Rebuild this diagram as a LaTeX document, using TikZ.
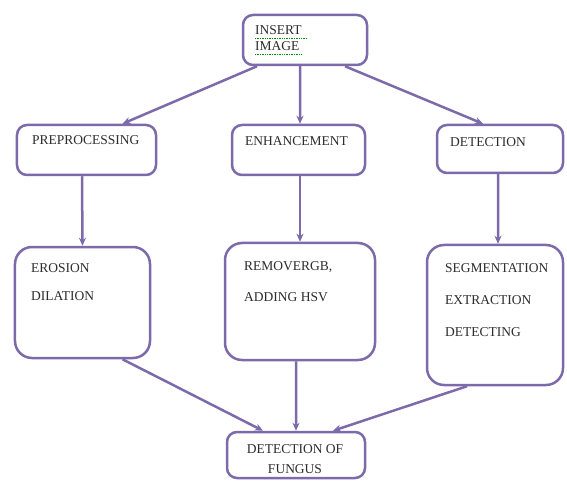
\documentclass[tikz,border=0pt]{standalone}
\usepackage{fontspec}
\setmainfont{Liberation Serif}
\usetikzlibrary{arrows.meta,calc}
\definecolor{boxline}{RGB}{124,106,170}
\definecolor{txt}{RGB}{45,45,45}
\tikzset{
  box/.style={draw=boxline, line width=2.5bp, rounded corners=10bp, inner sep=0pt, fill=white},
  bigbox/.style={box, rounded corners=17bp},
  lbl/.style={anchor=base west, inner sep=0pt, text=txt, font=\fontsize{13.5bp}{15bp}\selectfont},
  clbl/.style={lbl, anchor=base},
  conn/.style={draw=boxline, line width=2.5bp, -{Stealth[length=8bp,width=7bp]}},
  squig/.style={draw=green!55!black, line width=0.7bp, densely dotted}
}
\begin{document}
\begin{tikzpicture}[x=1bp,y=-1bp]
\useasboundingbox (0,0) rectangle (567,481);
% boxes
\node[box, minimum width=124bp, minimum height=50bp] (ins) at (305,40) {};
\node[box, minimum width=139bp, minimum height=50bp] (pre) at (86.5,150) {};
\node[box, minimum width=133bp, minimum height=50bp] (enh) at (298.5,150) {};
\node[box, minimum width=126bp, minimum height=48bp] (det) at (500,149) {};
\node[bigbox, minimum width=135bp, minimum height=111bp] (ero) at (82.5,302.5) {};
\node[bigbox, minimum width=150bp, minimum height=117bp] (rem) at (300,301.5) {};
\node[bigbox, minimum width=136bp, minimum height=140bp] (seg) at (495,315) {};
\node[box, minimum width=138bp, minimum height=46bp] (fun) at (296,455) {};
% texts
\node[lbl] (t1) at (255,35) {INSERT};
\node[lbl] (t2) at (255,51) {IMAGE};
\draw[squig] (t1.base west) ++(0,3) -- ++(52,0);
\draw[squig] (t2.base west) ++(0,3) -- ++(47,0);
\node[lbl] (t3) at (32,145) {PREPROCESSING};
\node[lbl] (t4) at (245,146) {ENHANCEMENT};
\node[lbl] (t5) at (450,147) {DETECTION};
\node[lbl] (t6) at (31,272) {EROSION};
\node[lbl] (t7) at (31,300) {DILATION};
\node[lbl] (t8) at (244,270) {REMOVERGB,};
\node[lbl] (t9) at (244,301) {ADDING HSV};
\node[lbl] (t10) at (445,272) {SEGMENTATION};
\node[lbl] (t11) at (445,304) {EXTRACTION};
\node[lbl] (t12) at (445,336) {DETECTING};
\node[clbl] (t13) at (295,453) {DETECTION OF};
\node[clbl] (t14) at (295,473) {FUNGUS};
% connectors
\draw[conn] ([xshift=-48bp]ins.south) -- ([xshift=36bp]pre.north);
\draw[conn] ([xshift=-5bp]ins.south) -- ([xshift=1.5bp]enh.north);
\draw[conn] ([xshift=40bp]ins.south) -- ([xshift=-17bp]det.north);
\draw[conn] ([xshift=-4.5bp]pre.south) -- (ero.north);
\draw[conn] ([xshift=1.5bp]enh.south) -- (rem.north);
\draw[conn] ([xshift=-2bp]det.south) -- ([xshift=3bp]seg.north);
\draw[conn] ([xshift=40bp]ero.south) -- ([xshift=-33bp]fun.north);
\draw[conn] ([xshift=-4bp]rem.south) -- ([xshift=0bp]fun.north);
\draw[conn] ([xshift=-28bp]seg.south) -- ([xshift=37bp]fun.north);
\end{tikzpicture}
\end{document}
